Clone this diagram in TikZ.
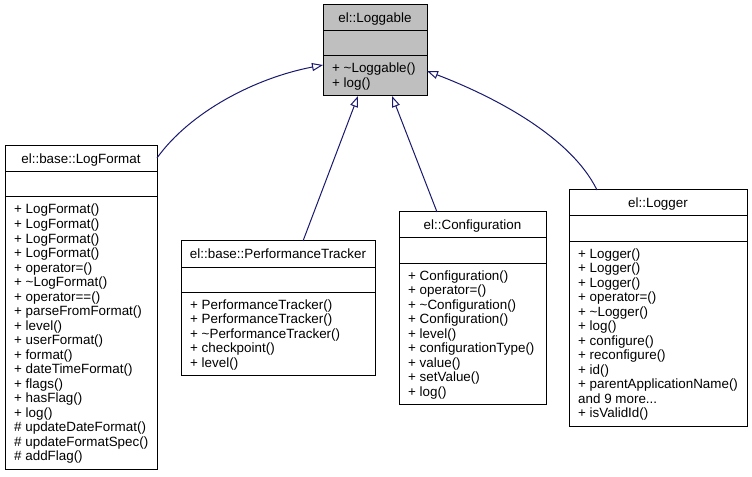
\documentclass[tikz,border=0pt]{standalone}
\usepackage{fontspec}
\setmainfont{Liberation Sans}
\usetikzlibrary{arrows.meta}
\definecolor{edgeblue}{HTML}{191970}
\definecolor{boxgray}{HTML}{BFBFBF}
\newcommand\threedots{...}
\tikzset{
  classbox/.style={draw=black, line width=1bp, inner sep=0pt, outer sep=0pt, rectangle},
  sepline/.style={draw=black, line width=1bp},
  inherit/.style={draw=edgeblue, line width=1bp, -{Triangle[open, length=11bp, width=8bp, line width=1bp]}},
  txt/.style={inner sep=0pt, font=\fontsize{13.4bp}{14.5bp}\selectfont}
}
\newcommand\umlbox[8]{%
  \pgfmathsetmacro\boxh{62+14.5*#5}%
  \node[classbox, fill=#6, minimum width=#4bp, minimum height=\boxh bp, anchor=north west] (#1) at (#2,#3) {};
  \draw[sepline] ([yshift=-26bp]#1.north west) -- ([yshift=-26bp]#1.north east);
  \draw[sepline] ([yshift=-51bp]#1.north west) -- ([yshift=-51bp]#1.north east);
  \node[txt, anchor=base] (#1-title) at ([yshift=-17.7bp]#1.north) {#7};
  \foreach \t [count=\i] in {#8} {
    \pgfmathsetmacro\yy{-(68+14.5*(\i-1))}
    \node[txt, anchor=base west] (#1-m\i) at ([xshift=9bp, yshift=\yy bp]#1.north west) {\t};
  }%
}
\begin{document}
\begin{tikzpicture}[x=1bp,y=-1bp]
\fill[white] (0,0) rectangle (752,477);
\useasboundingbox (0,0) rectangle (752,477);

\umlbox{loggable}{323}{5}{104}{2}{boxgray}{el::Loggable}{+ \textasciitilde Loggable(), + log()}
\umlbox{logformat}{5}{146}{152}{18}{white}{el::base::LogFormat}{+ LogFormat(), + LogFormat(), + LogFormat(), + LogFormat(), + operator=(), + \textasciitilde LogFormat(), + operator==(), + parseFromFormat(), + level(), + userFormat(), + format(), + dateTimeFormat(), + flags(), + hasFlag(), + log(), \# updateDateFormat(), \# updateFormatSpec(), \# addFlag()}
\umlbox{perf}{181}{241}{194}{5}{white}{el::base::PerformanceTracker}{+ PerformanceTracker(), + PerformanceTracker(), + \textasciitilde PerformanceTracker(), + checkpoint(), + level()}
\umlbox{config}{399}{212}{147}{9}{white}{el::Configuration}{+ Configuration(), + operator=(), + \textasciitilde Configuration(), + Configuration(), + level(), + configurationType(), + value(), + setValue(), + log()}
\umlbox{logger}{569}{190}{178}{12}{white}{el::Logger}{+ Logger(), + Logger(), + Logger(), + operator=(), + \textasciitilde Logger(), + log(), + configure(), + reconfigure(), + id(), + parentApplicationName(), {and 9 more\threedots}, + isValidId()}

\coordinate (lf-out) at ([yshift=-12bp]logformat.north east);
\coordinate (lg-left) at ([yshift=-60bp]loggable.north west);
\coordinate (pf-out) at ([xshift=122bp]perf.north west);
\coordinate (lg-b1) at ([xshift=35bp]loggable.south west);
\coordinate (cf-out) at ([xshift=38bp]config.north west);
\coordinate (lg-b2) at ([xshift=69bp]loggable.south west);
\coordinate (lo-out) at ([xshift=28bp]logger.north west);
\coordinate (lg-right) at ([yshift=-66bp]loggable.north east);

\draw[inherit] (lf-out) .. controls (190,112) and (255,78) .. (lg-left);
\draw[inherit] (pf-out) -- (lg-b1);
\draw[inherit] (cf-out) -- (lg-b2);
\draw[inherit] (lo-out) .. controls (570,135) and (490,95) .. (lg-right);
\end{tikzpicture}
\end{document}
